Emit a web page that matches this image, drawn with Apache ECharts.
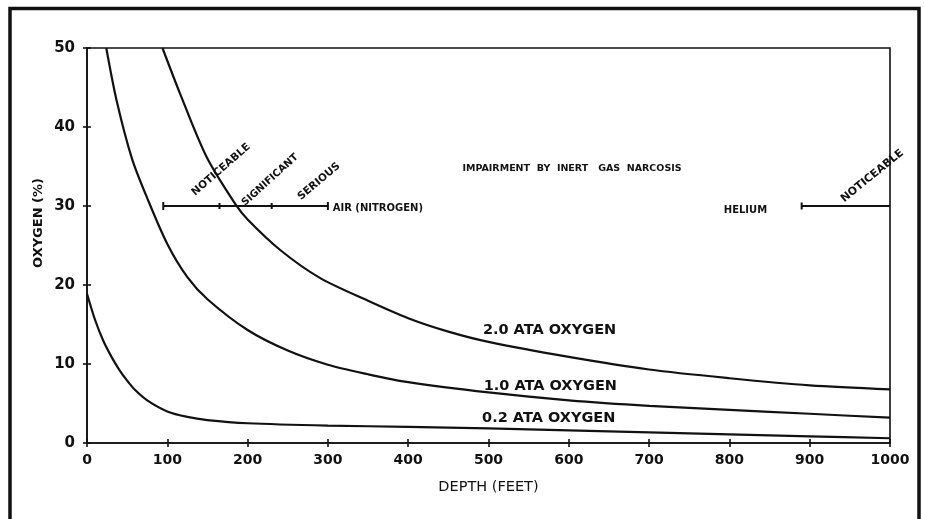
<!DOCTYPE html>
<html><head><meta charset="utf-8">
<script src="https://cdn.jsdelivr.net/npm/echarts@6.0.0/dist/echarts.min.js"></script>
<style>html,body{margin:0;padding:0;background:#fff}#c{width:925px;height:519px}</style>
</head><body><div id="c"></div>
<script>
// ---- data ----
const xTicks = [0, 100, 200, 300, 400, 500, 600, 700, 800, 900, 1000];
const yTicks = [0, 10, 20, 30, 40, 50];

const depth02 = [0, 10, 20, 30, 40, 50, 60, 75, 100, 125, 150, 200, 300, 400, 500, 600, 700, 800, 900, 1000];
const oxy02   = [18.9, 15.6, 13.0, 11.0, 9.3, 7.9, 6.7, 5.4, 4.0, 3.3, 2.9, 2.5, 2.2, 2.05, 1.85, 1.6, 1.35, 1.1, 0.85, 0.6];

const depth10 = [24, 37, 56, 75, 100, 125, 150, 200, 250, 300, 350, 400, 500, 600, 700, 800, 900, 1000];
const oxy10   = [50, 43.3, 36, 31, 25.2, 21, 18.2, 14.3, 11.7, 9.9, 8.7, 7.7, 6.4, 5.4, 4.7, 4.2, 3.7, 3.2];

const depth20 = [94, 116, 149, 185, 200, 241, 290, 350, 400, 450, 500, 600, 700, 800, 900, 1000];
const oxy20   = [50, 44.2, 36.2, 30.2, 28.3, 24.4, 20.9, 18.0, 15.8, 14.1, 12.8, 10.9, 9.3, 8.2, 7.3, 6.8];

const narcosisLevel = 30;
const airDepths = [95, 165, 230, 300];
const heliumDepths = [890, 1000];

const airLabels = ['NOTICEABLE', 'SIGNIFICANT', 'SERIOUS'];
const heliumLabels = ['NOTICEABLE'];
const curveNames = ['2.0 ATA OXYGEN', '1.0 ATA OXYGEN', '0.2 ATA OXYGEN'];

// ---- build ----
const pair = (xs, ys) => xs.map((x, i) => [x, ys[i]]);
const INK = '#111111';
const FONT = 'DejaVu Sans';

const curveStyle = {type: 'line', showSymbol: false, smooth: 0.3,
  lineStyle: {color: INK, width: 2.2}, silent: true, z: 3};

const airData = airDepths.map((d, i) => ({value: [d, narcosisLevel],
  symbol: 'rect', symbolSize: (i === 0 || i === airDepths.length - 1) ? [2, 8] : [2, 6]}));
const heData = heliumDepths.map((d, i) => ({value: [d, narcosisLevel],
  symbol: i === 0 ? 'rect' : 'none', symbolSize: [2, 7]}));

function txt(x, y, text, size, extra) {
  return {value: [x, y], name: text,
    label: Object.assign({show: true, formatter: '{b}', position: 'inside', color: INK,
      fontFamily: FONT, fontWeight: 'bold', fontSize: size}, extra || {})};
}

const annot = [
  txt(167, 34.6, airLabels[0], 10.5, {rotate: 41}),
  txt(228, 33.3, airLabels[1], 10, {rotate: 42}),
  txt(289, 33.1, airLabels[2], 10.5, {rotate: 40}),
  txt(306, 29.7, 'AIR (NITROGEN)', 10, {align: 'left'}),
  txt(604, 34.7, 'IMPAIRMENT  BY  INERT   GAS  NARCOSIS', 9.5, {}),
  txt(820, 29.5, 'HELIUM', 10, {}),
  txt(978, 33.8, heliumLabels[0], 11, {rotate: 39}),
  txt(576, 14.3, curveNames[0], 14.5, {}),
  txt(577, 7.2, curveNames[1], 14.5, {}),
  txt(575, 3.1, curveNames[2], 14.5, {})
];

const axisBase = {min: 0, axisLine: {show: true, lineStyle: {color: INK, width: 1.6}},
  splitLine: {show: false}};

const option = {
  animation: false,
  backgroundColor: '#fff',
  grid: {left: 87, right: 35, top: 48, bottom: 76, show: true, borderColor: INK, borderWidth: 1.6},
  xAxis: [
    Object.assign({}, axisBase, {type: 'value', max: 1000, interval: 100,
      axisTick: {show: true, length: 4, lineStyle: {color: INK, width: 1.6}},
      axisLabel: {color: INK, fontFamily: FONT, fontWeight: 'bold', fontSize: 14, margin: 10,
        formatter: v => xTicks.includes(v) ? String(v) : ''},
      name: 'DEPTH (FEET)', nameLocation: 'middle', nameGap: 37,
      nameTextStyle: {color: INK, fontFamily: FONT, fontSize: 14.5}}),
    {type: 'value', min: 0, max: 1000, interval: 100, position: 'bottom',
      axisLine: {show: false}, axisLabel: {show: false}, splitLine: {show: false},
      axisTick: {show: true, inside: true, length: 4, lineStyle: {color: INK, width: 1.6}}}
  ],
  yAxis: [
    Object.assign({}, axisBase, {type: 'value', max: 50, interval: 10,
      axisTick: {show: true, length: 4, lineStyle: {color: INK, width: 1.6}},
      axisLabel: {color: INK, fontFamily: FONT, fontWeight: 'bold', fontSize: 15, margin: 12,
        formatter: v => yTicks.includes(v) ? String(v) : ''}}),
    {type: 'value', min: 0, max: 50, interval: 10, position: 'left',
      axisLine: {show: false}, axisLabel: {show: false}, splitLine: {show: false},
      axisTick: {show: true, inside: true, length: 4, lineStyle: {color: INK, width: 1.6}}}
  ],
  graphic: [
    {type: 'rect', shape: {x: 10, y: 8.5, width: 909, height: 620},
      style: {fill: 'none', stroke: INK, lineWidth: 3.5}, silent: true},
    {type: 'text', x: 39, y: 223, rotation: Math.PI / 2,
      style: {text: 'OXYGEN (%)', fill: INK, font: 'bold 13px "DejaVu Sans"',
        align: 'center', verticalAlign: 'middle'}}
  ],
  series: [
    Object.assign({}, curveStyle, {name: curveNames[2], data: pair(depth02, oxy02)}),
    Object.assign({}, curveStyle, {name: curveNames[1], data: pair(depth10, oxy10)}),
    Object.assign({}, curveStyle, {name: curveNames[0], data: pair(depth20, oxy20)}),
    {type: 'line', name: 'air', data: airData, showSymbol: true,
      itemStyle: {color: INK}, lineStyle: {color: INK, width: 2}, silent: true, z: 2},
    {type: 'line', name: 'helium', data: heData, showSymbol: true,
      itemStyle: {color: INK}, lineStyle: {color: INK, width: 2}, silent: true, z: 2},
    {type: 'scatter', data: annot, symbolSize: 0, silent: true, z: 5,
      itemStyle: {opacity: 1, color: INK}}
  ]
};

const chart = echarts.init(document.getElementById('c'), null, {renderer: 'canvas'});
chart.setOption(option);
</script>
</body></html>
